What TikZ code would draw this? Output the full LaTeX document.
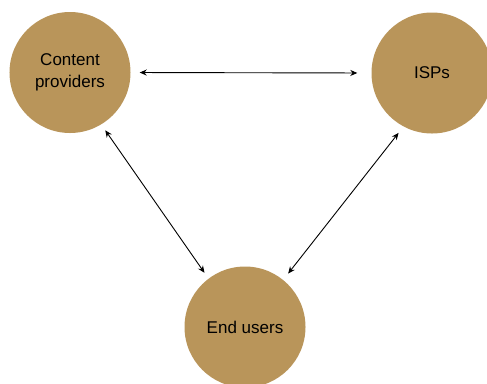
\documentclass[tikz,border=0pt]{standalone}
\usepackage{fontspec}
\setmainfont{Liberation Sans}
\usetikzlibrary{arrows.meta}
\definecolor{tan}{RGB}{185,149,90}
\tikzset{
  party/.style={circle, fill=tan, draw=none, minimum size=121bp, inner sep=0pt,
    align=center, font=\fontsize{17bp}{22bp}\selectfont, text=black},
  link/.style={{Stealth[length=7bp,width=6bp]}-{Stealth[length=7bp,width=6bp]}, line width=0.9bp, black}
}
\begin{document}
\begin{tikzpicture}[x=1bp,y=-1bp]
\useasboundingbox (0,0) rectangle (487,383);
\node[party] (cp) at (70,72.5) {Content\\providers};
\node[party] (isp) at (432,73) {ISPs};
\node[party] (eu) at (245,327) {End users};
\draw[link, shorten <=9bp, shorten >=14bp] (cp.east) -- (isp.west);
\draw[link, shorten <=7bp, shorten >=7bp] (cp.301.7) -- (eu.127.5);
\draw[link, shorten <=8bp, shorten >=8bp] (isp.242) -- (eu.51);
\end{tikzpicture}
\end{document}
